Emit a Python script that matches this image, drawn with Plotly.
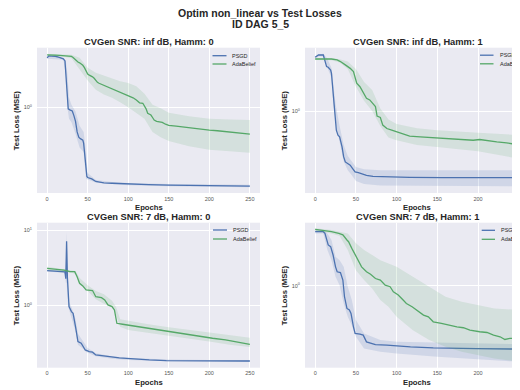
import plotly.graph_objects as go

W, H = 520, 390
# the page body adds an 8 px margin around the figure; positions below are page pixels
OFFSET = 8
PSGD_COLOR = "#4C72B0"
ADA_COLOR = "#55A868"
PSGD_FILL = "rgba(76,114,176,0.16)"
ADA_FILL = "rgba(85,168,104,0.15)"
BG = "#EAEAF2"
TXT = "#262626"
FONT = "Liberation Sans, Arial, sans-serif"

SERIES = ["PSGD", "AdaBelief"]
MAIN_TITLE = ["Optim non_linear vs Test Losses", "ID DAG 5_5"]
X_TICKS = [0, 50, 100, 150, 200, 250]

# ---------------- Top-left: SNR inf dB, Hamm 0 ----------------
tl_psgd_ep = [0, 2, 5, 10, 15, 18, 20, 22, 23, 24, 25, 26, 28, 31, 33, 35, 37, 39, 41, 44, 45, 46, 47, 48, 49, 50,
              52, 55, 60, 65, 70, 80, 100, 125, 150, 175, 200, 225, 250]
tl_psgd = [2.60, 2.70, 2.69, 2.68, 2.62, 2.58, 2.55, 2.45, 2.0, 1.55, 1.2, 0.97, 0.95, 0.93, 0.85, 0.76, 0.62, 0.56,
           0.545, 0.53, 0.50, 0.43, 0.35, 0.29, 0.262, 0.257, 0.255, 0.250, 0.238, 0.234, 0.232, 0.230, 0.226, 0.224,
           0.222, 0.221, 0.219, 0.219, 0.218]
tl_psgd_band_ep = [0, 20, 23, 25, 27, 30, 35, 40, 45, 48, 50, 55, 60, 80, 100, 150, 200, 250]
tl_psgd_hi = [2.68, 2.60, 2.45, 1.9, 1.2, 1.05, 0.92, 0.70, 0.62, 0.42, 0.28, 0.262, 0.245, 0.236, 0.231, 0.227, 0.224, 0.223]
tl_psgd_lo = [2.55, 2.50, 1.90, 1.0, 0.80, 0.75, 0.60, 0.46, 0.42, 0.25, 0.245, 0.240, 0.232, 0.225, 0.221, 0.217, 0.214, 0.213]

tl_ada_ep = [0, 5, 10, 15, 20, 25, 30, 32, 35, 38, 40, 42, 44, 46, 48, 50, 52, 54, 56, 58, 60, 62, 64, 68, 73, 78, 81,
             85, 89, 93, 97, 100, 103, 106, 110, 114, 118, 120, 122, 124, 126, 128, 130, 132, 135, 138, 142, 146, 150,
             159, 171, 179, 190, 200, 210, 220, 230, 237, 245, 250]
tl_ada = [2.75, 2.76, 2.74, 2.73, 2.71, 2.69, 2.67, 2.62, 2.50, 2.40, 2.36, 2.32, 2.25, 2.15, 2.0, 1.90, 1.86, 1.84,
          1.80, 1.75, 1.67, 1.62, 1.59, 1.55, 1.49, 1.45, 1.41, 1.38, 1.35, 1.31, 1.27, 1.25, 1.23, 1.20, 1.15, 1.09,
          1.08, 1.03, 0.97, 0.89, 0.87, 0.86, 0.82, 0.78, 0.76, 0.755, 0.746, 0.72, 0.705, 0.695, 0.677, 0.664, 0.650,
          0.643, 0.635, 0.623, 0.615, 0.611, 0.600, 0.595]
tl_ada_band_ep = [0, 10, 20, 30, 40, 50, 60, 70, 80, 90, 100, 110, 120, 130, 140, 150, 175, 200, 225, 250]
tl_ada_hi = [2.80, 2.79, 2.78, 2.76, 2.60, 2.15, 1.95, 1.85, 1.75, 1.65, 1.60, 1.50, 1.30, 1.05, 0.98, 0.90, 0.84, 0.80, 0.79, 0.78]
tl_ada_lo = [2.70, 2.69, 2.66, 2.58, 2.10, 1.68, 1.40, 1.28, 1.20, 1.10, 1.00, 0.90, 0.80, 0.62, 0.56, 0.52, 0.47, 0.44, 0.425, 0.415]

# ---------------- Top-right: SNR inf dB, Hamm 1 ----------------
tr_psgd_ep = [0, 4, 10, 12, 14, 16, 19, 20, 22, 24, 26, 28, 30, 33, 35, 37, 40, 43, 46, 49, 53, 57, 63, 71, 88, 116,
              157, 198, 250]
tr_psgd = [2.82, 2.95, 2.95, 2.68, 2.36, 2.33, 2.21, 2.07, 1.41, 0.896, 0.692, 0.629, 0.609, 0.502, 0.413, 0.375,
           0.363, 0.352, 0.330, 0.309, 0.305, 0.299, 0.290, 0.284, 0.281, 0.279, 0.277, 0.277, 0.277]
tr_psgd_band_ep = [0, 5, 10, 15, 20, 22, 25, 30, 35, 40, 45, 50, 60, 80, 100, 150, 200, 250]
tr_psgd_hi = [2.88, 3.00, 3.02, 2.75, 2.30, 1.80, 1.15, 0.75, 0.52, 0.42, 0.38, 0.34, 0.325, 0.32, 0.32, 0.32, 0.32, 0.32]
tr_psgd_lo = [2.76, 2.88, 2.85, 2.30, 1.90, 1.20, 0.80, 0.55, 0.38, 0.32, 0.29, 0.26, 0.245, 0.238, 0.235, 0.235, 0.235, 0.235]

tr_ada_ep = [0, 10, 20, 27, 31, 37, 43, 47, 51, 55, 59, 63, 67, 74, 76, 80, 83, 88, 94, 100, 108, 116, 129, 149, 161,
             178, 194, 202, 215, 223, 235, 243, 250]
tr_ada = [2.73, 2.73, 2.73, 2.68, 2.60, 2.44, 2.28, 2.14, 1.71, 1.60, 1.45, 1.28, 1.24, 1.09, 0.908, 0.885, 0.763,
          0.715, 0.692, 0.670, 0.649, 0.617, 0.609, 0.597, 0.589, 0.578, 0.570, 0.578, 0.560, 0.552, 0.542, 0.528, 0.521]
tr_ada_band_ep = [0, 20, 30, 40, 50, 60, 70, 80, 90, 100, 125, 150, 200, 250]
tr_ada_hi = [2.78, 2.77, 2.72, 2.60, 2.25, 1.75, 1.50, 1.05, 0.85, 0.78, 0.72, 0.69, 0.66, 0.63]
tr_ada_lo = [2.68, 2.67, 2.55, 2.25, 1.60, 1.22, 1.00, 0.75, 0.60, 0.57, 0.52, 0.50, 0.46, 0.40]

# ---------------- Bottom-left: SNR 7 dB, Hamm 0 ----------------
bl_psgd_ep = [0, 10, 20, 22, 23, 24, 25, 26, 27, 30, 32, 35, 38, 42, 44, 47, 52, 56, 60, 69, 77, 89, 105, 126, 147,
              188, 250]
bl_psgd = [2.88, 2.85, 2.80, 2.78, 2.25, 7.1, 2.3, 1.06, 0.96, 0.824, 0.783, 0.521, 0.330, 0.313, 0.283, 0.255,
           0.243, 0.238, 0.219, 0.215, 0.208, 0.200, 0.194, 0.188, 0.184, 0.182, 0.182]
bl_psgd_band_ep = [0, 20, 22, 23, 24, 25, 26, 27, 30, 35, 38, 42, 45, 48, 50, 60, 80, 100, 150, 200, 250]
bl_psgd_hi = [2.95, 2.90, 2.90, 3.5, 9.5, 4.0, 1.4, 1.1, 0.95, 0.65, 0.42, 0.36, 0.33, 0.29, 0.27, 0.23, 0.21, 0.20,
              0.19, 0.188, 0.187]
bl_psgd_lo = [2.80, 2.70, 2.60, 2.0, 2.0, 1.8, 0.95, 0.88, 0.72, 0.45, 0.30, 0.28, 0.26, 0.24, 0.23, 0.21, 0.195,
              0.188, 0.180, 0.177, 0.176]

bl_ada_ep = [0, 21, 28, 34, 37, 40, 44, 48, 56, 60, 67, 71, 75, 80, 83, 86, 93, 106, 122, 138, 155, 171, 188, 204,
             220, 237, 250]
bl_ada = [3.10, 2.94, 2.80, 2.80, 2.40, 1.96, 1.81, 1.60, 1.57, 1.30, 1.26, 1.18, 1.01, 0.96, 0.867, 0.577, 0.560,
          0.532, 0.495, 0.471, 0.438, 0.412, 0.384, 0.365, 0.347, 0.323, 0.303]
bl_ada_band_ep = [0, 20, 30, 35, 40, 45, 50, 60, 70, 80, 85, 90, 100, 125, 150, 175, 200, 225, 250]
bl_ada_hi = [3.25, 3.05, 2.95, 2.85, 2.30, 2.05, 1.85, 1.55, 1.40, 1.15, 0.95, 0.65, 0.62, 0.56, 0.51, 0.47, 0.43, 0.40, 0.37]
bl_ada_lo = [2.95, 2.80, 2.70, 2.60, 1.90, 1.70, 1.55, 1.20, 1.05, 0.95, 0.75, 0.52, 0.47, 0.43, 0.39, 0.36, 0.33, 0.30, 0.28]

# ---------------- Bottom-right: SNR 7 dB, Hamm 1 ----------------
br_psgd_ep = [0, 10, 12, 16, 19, 22, 25, 27, 31, 34, 36, 39, 42, 44, 47, 49, 55, 59, 63, 68, 74, 88, 104, 117, 145,
              178, 198, 250]
br_psgd = [2.84, 2.84, 2.75, 2.20, 2.13, 1.81, 1.44, 1.31, 1.29, 1.116, 0.808, 0.645, 0.625, 0.586, 0.452, 0.398,
           0.393, 0.385, 0.338, 0.332, 0.321, 0.317, 0.311, 0.307, 0.301, 0.297, 0.296, 0.294]
br_psgd_band_ep = [0, 10, 15, 20, 25, 30, 35, 40, 45, 50, 60, 80, 100, 150, 200, 250]
br_psgd_hi = [2.97, 2.94, 2.75, 2.42, 1.75, 1.64, 1.44, 0.981, 0.758, 0.515, 0.398, 0.350, 0.338, 0.332, 0.328, 0.323]
br_psgd_lo = [2.75, 2.75, 1.99, 1.64, 1.19, 1.01, 0.710, 0.549, 0.467, 0.373, 0.297, 0.279, 0.270, 0.253, 0.240, 0.230]

br_ada_ep = [0, 14, 20, 29, 34, 39, 41, 45, 49, 53, 57, 63, 68, 74, 80, 86, 92, 96, 102, 108, 112, 119, 125, 133, 139,
             145, 155, 164, 174, 182, 190, 202, 211, 219, 227, 233, 239, 250]
br_ada = [2.97, 2.90, 2.84, 2.75, 2.67, 2.42, 2.34, 2.06, 1.81, 1.64, 1.44, 1.31, 1.25, 1.15, 1.116, 1.01, 0.981,
          0.890, 0.835, 0.758, 0.710, 0.666, 0.625, 0.567, 0.549, 0.498, 0.483, 0.467, 0.452, 0.444, 0.424, 0.411,
          0.405, 0.385, 0.373, 0.354, 0.361, 0.366]
br_ada_band_ep = [0, 20, 30, 40, 50, 60, 70, 80, 90, 100, 120, 140, 160, 180, 200, 220, 250]
br_ada_hi = [3.03, 2.94, 2.84, 2.75, 2.27, 1.99, 1.81, 1.64, 1.54, 1.44, 1.19, 0.981, 0.808, 0.734, 0.688, 0.645, 0.625]
br_ada_lo = [2.90, 2.75, 2.61, 1.99, 1.35, 1.116, 0.950, 0.758, 0.666, 0.549, 0.424, 0.350, 0.307, 0.279, 0.262, 0.245, 0.230]


def px(xp):
    return (xp - OFFSET) / W


def py(yp):
    return 1 - (yp - OFFSET) / H


panels = [
    dict(title="CVGen SNR: inf dB, Hamm: 0", box=(37, 47.7, 260, 193), xr=[-12.5, 262.5], yr=[-0.72, 0.50],
         yt=[1], ytt=["10<sup>0</sup>"], title_x=148.5, ylab_x=16, leg=(212.5, 226.5, 230, 55.7, 64),
         psgd=(tl_psgd_ep, tl_psgd, tl_psgd_band_ep, tl_psgd_hi, tl_psgd_lo),
         ada=(tl_ada_ep, tl_ada, tl_ada_band_ep, tl_ada_hi, tl_ada_lo)),
    dict(title="CVGen SNR: inf dB, Hamm: 1", box=(305, 47.7, 520, 193), xr=[-12.5, 251.5], yr=[-0.686, 0.531],
         yt=[1], ytt=["10<sup>0</sup>"], title_x=417.5, ylab_x=284, leg=(480, 493.5, 498.3, 55.2, 63.8),
         psgd=(tr_psgd_ep, tr_psgd, tr_psgd_band_ep, tr_psgd_hi, tr_psgd_lo),
         ada=(tr_ada_ep, tr_ada, tr_ada_band_ep, tr_ada_hi, tr_ada_lo)),
    dict(title="CVGen SNR: 7 dB, Hamm: 0", box=(37, 222.7, 260, 367.7), xr=[-12.5, 262.5], yr=[-0.829, 1.097],
         yt=[1, 10], ytt=["10<sup>0</sup>", "10<sup>1</sup>"], title_x=148.5, ylab_x=16,
         leg=(213, 227, 230.5, 230, 239),
         psgd=(bl_psgd_ep, bl_psgd, bl_psgd_band_ep, bl_psgd_hi, bl_psgd_lo),
         ada=(bl_ada_ep, bl_ada, bl_ada_band_ep, bl_ada_hi, bl_ada_lo)),
    dict(title="CVGen SNR: 7 dB, Hamm: 1", box=(305, 222.7, 520, 367.7), xr=[-12.5, 251.5], yr=[-0.688, 0.529],
         yt=[1], ytt=["10<sup>0</sup>"], title_x=417.5, ylab_x=284, leg=(481.7, 495, 499.3, 230.3, 239.3),
         psgd=(br_psgd_ep, br_psgd, br_psgd_band_ep, br_psgd_hi, br_psgd_lo),
         ada=(br_ada_ep, br_ada, br_ada_band_ep, br_ada_hi, br_ada_lo)),
]

fig = go.Figure()
annotations = []
shapes = []

for i, p in enumerate(panels):
    n = "" if i == 0 else str(i + 1)
    xa, ya = "x" + n, "y" + n
    x0, y0, x1, y1 = p["box"]
    for key, col, fillc in (("psgd", PSGD_COLOR, PSGD_FILL), ("ada", ADA_COLOR, ADA_FILL)):
        ep, val, bep, hi, lo = p[key]
        fig.add_trace(go.Scatter(x=list(bep) + list(bep)[::-1], y=list(hi) + list(lo)[::-1], fill="toself",
                                 fillcolor=fillc, line=dict(width=0), mode="lines", hoverinfo="skip",
                                 showlegend=False, xaxis=xa, yaxis=ya))
        fig.add_trace(go.Scatter(x=ep, y=val, mode="lines", line=dict(color=col, width=1.3),
                                 name=SERIES[0] if key == "psgd" else SERIES[1], showlegend=False,
                                 xaxis=xa, yaxis=ya))
    axis_common = dict(showgrid=True, gridcolor="white", gridwidth=1, zeroline=False, showline=False, ticks="",
                       tickfont=dict(size=5.5, color="#555555", family=FONT))
    fig.layout["xaxis" + n] = dict(domain=[px(x0), min(1.0, px(x1))], range=p["xr"], tickvals=X_TICKS,
                                   anchor=ya, ticklabeloverflow="allow", ticklabelstandoff=1, **axis_common)
    fig.layout["yaxis" + n] = dict(domain=[py(y1), py(y0)], type="log", range=p["yr"], tickvals=p["yt"],
                                   ticktext=p["ytt"], anchor=xa, ticklabelstandoff=4, **axis_common)
    # subplot title
    annotations.append(dict(text="<b>" + p["title"] + "</b>", x=px(p["title_x"]), y=py(y0 - 5.7),
                            xref="paper", yref="paper", showarrow=False, xanchor="center", yanchor="middle",
                            font=dict(size=9.3, color=TXT, family=FONT)))
    # axis titles
    annotations.append(dict(text="<b>Epochs</b>", x=px(x0 + 111.7), y=py(y1 + 14.5), xref="paper", yref="paper",
                            showarrow=False, xanchor="center", yanchor="middle",
                            font=dict(size=7.7, color=TXT, family=FONT)))
    annotations.append(dict(text="<b>Test Loss (MSE)</b>", x=px(p["ylab_x"]), y=py((y0 + y1) / 2), xref="paper",
                            yref="paper", showarrow=False, textangle=-90, xanchor="center", yanchor="middle",
                            font=dict(size=7.7, color=TXT, family=FONT)))
    # legend
    lx0, lx1, tx, r1, r2 = p["leg"]
    for (row, col, label) in ((r1, PSGD_COLOR, SERIES[0]), (r2, ADA_COLOR, SERIES[1])):
        shapes.append(dict(type="line", xref="paper", yref="paper", x0=px(lx0), x1=px(lx1), y0=py(row), y1=py(row),
                           line=dict(color=col, width=1.3)))
        annotations.append(dict(text=label, x=px(tx), y=py(row), xref="paper", yref="paper", showarrow=False,
                                xanchor="left", yanchor="middle", font=dict(size=5.5, color=TXT, family=FONT)))

annotations.append(dict(text="<b>" + MAIN_TITLE[0] + "</b>", x=px(260), y=py(13.2), xref="paper", yref="paper",
                        showarrow=False, xanchor="center", yanchor="middle",
                        font=dict(size=10.5, color=TXT, family=FONT)))
annotations.append(dict(text="<b>" + MAIN_TITLE[1] + "</b>", x=px(260), y=py(23.8), xref="paper", yref="paper",
                        showarrow=False, xanchor="center", yanchor="middle",
                        font=dict(size=10.5, color=TXT, family=FONT)))

fig.update_layout(width=W, height=H, margin=dict(l=0, r=0, t=0, b=0, autoexpand=False),
                  paper_bgcolor="white", plot_bgcolor=BG, showlegend=False,
                  annotations=annotations, shapes=shapes, font=dict(family=FONT, color=TXT))

fig.write_html("out.html")
